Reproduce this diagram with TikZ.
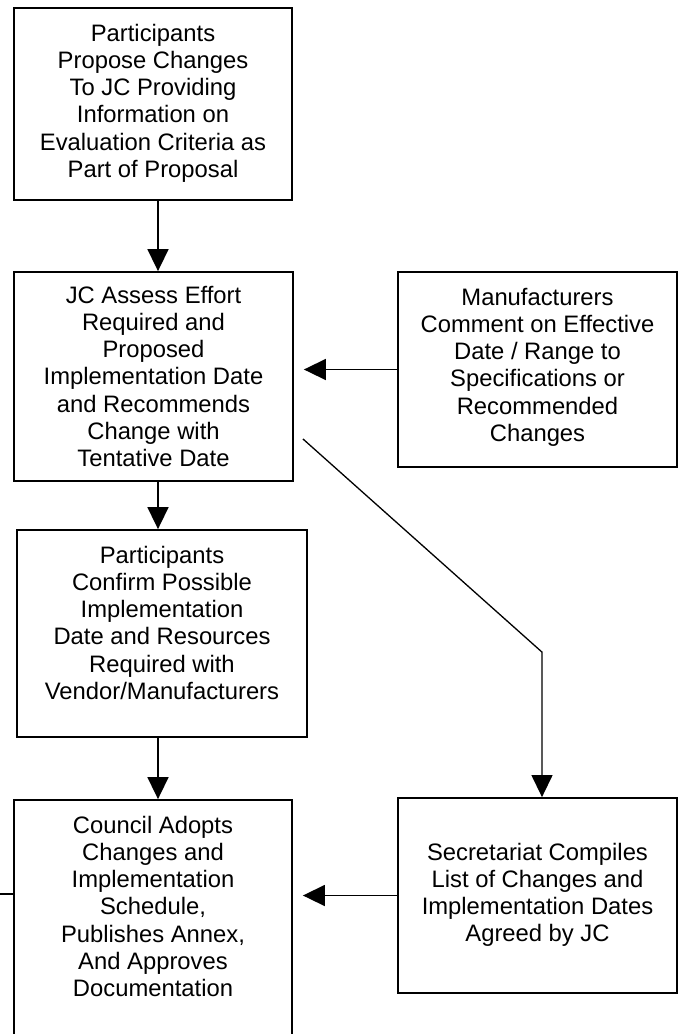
\documentclass[tikz,border=0pt]{standalone}
\usepackage{fontspec}
\setmainfont{Liberation Sans}
\usetikzlibrary{arrows.meta,calc}

\tikzset{
  stepbox/.style={draw=black, line width=1.8pt, rectangle, inner sep=0pt, fill=none},
  label/.style={align=center, inner sep=0pt, anchor=north,
    font=\fontsize{23.8}{27.3}\selectfont},
  flow/.style={draw=black, line width=1.6pt, -{Triangle[length=22pt,width=21pt]}},
  thin flow/.style={draw=black, line width=1.3pt, -{Triangle[length=22pt,width=21pt]}},
}

\begin{document}
\begin{tikzpicture}[x=1pt,y=-1pt]
  \clip (0,0) rectangle (688,1034);
  \fill[white] (0,0) rectangle (688,1034);

  % process boxes
  \node[stepbox, minimum width=278pt, minimum height=192pt] (p1) at (153,104) {};
  \node[stepbox, minimum width=279pt, minimum height=209pt] (p2) at (153.5,376.5) {};
  \node[stepbox, minimum width=279pt, minimum height=195pt] (manu) at (537.5,369.5) {};
  \node[stepbox, minimum width=290pt, minimum height=207pt] (p3) at (162,633.5) {};
  \node[stepbox, minimum width=278pt, minimum height=280pt] (council) at (153,940) {};
  \node[stepbox, minimum width=279pt, minimum height=195pt] (sec) at (537.5,895.5) {};

  % box texts
  \node[label] (t1) at ($(p1.north)+(0,16.5)$) {Participants\\Propose Changes\\To JC Providing\\Information on\\Evaluation Criteria as\\Part of Proposal};
  \node[label] (t2) at ($(p2.north)+(0,14.5)$) {JC Assess Effort\\Required and\\Proposed\\Implementation Date\\and Recommends\\Change with\\Tentative Date};
  \node[label] (t3) at ($(manu.north)+(0,16.5)$) {Manufacturers\\Comment on Effective\\Date / Range to\\Specifications or\\Recommended\\Changes};
  \node[label] (t4) at ($(p3.north)+(0,16.5)$) {Participants\\Confirm Possible\\Implementation\\Date and Resources\\Required with\\Vendor/Manufacturers};
  \node[label] (t5) at ($(council.north)+(0,16.5)$) {Council Adopts\\Changes and\\Implementation\\Schedule,\\Publishes Annex,\\And Approves\\Documentation};
  \node[label] (t6) at ($(sec.north)+(0,45.5)$) {Secretariat Compiles\\List of Changes and\\Implementation Dates\\Agreed by JC};

  % connectors
  \draw[flow] ([xshift=5pt]p1.south) -- ([xshift=4.5pt]p2.north);
  \draw[flow] ([xshift=4.5pt]p2.south) -- ([xshift=-4pt]p3.north);
  \draw[flow] ([xshift=-4pt]p3.south) -- ([xshift=5pt]council.north);
  \draw[flow] (manu.west) -- ($(p2.east |- manu.west)+(10,0)$);
  \draw[flow] (sec.west) -- ($(council.east |- sec.west)+(10,0)$);

  \coordinate (d1) at ($(p2.south east)+(9,-43)$);
  \coordinate (d2) at ($(sec.north)+(4.5,-145)$);
  \draw[thin flow] (d1) -- (d2) -- (d2 |- sec.north);

  % connector leaving the council box to the left
  \coordinate (off) at (0,894);
  \draw[line width=1.3pt] (council.west |- off) -- (off);
\end{tikzpicture}
\end{document}
